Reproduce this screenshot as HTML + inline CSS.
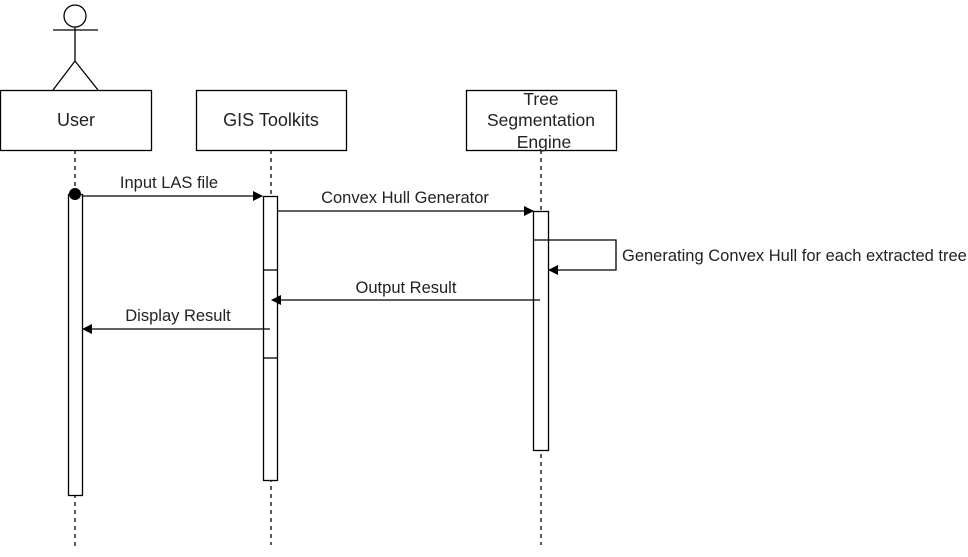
<!DOCTYPE html>
<html><head><style>body{margin:0;background:#fff}svg{display:block}</style></head><body>
<svg width="968" height="557" xmlns="http://www.w3.org/2000/svg" font-family="Liberation Sans, Arial, sans-serif" font-size="16.5">
<defs><marker id="a" markerWidth="10" markerHeight="10" refX="9" refY="5" orient="auto" markerUnits="userSpaceOnUse"><path d="M0,0 L10,5 L0,10 Z" fill="#000"/></marker></defs>
<g stroke="#000" fill="none" stroke-width="1.3">
<circle cx="75" cy="16" r="11"/>
<line x1="75" y1="27" x2="75" y2="61"/>
<line x1="53" y1="30" x2="98" y2="30"/>
<path d="M53,90 L75,61 L98,90"/>
<g stroke-dasharray="4,4"><line x1="75" y1="150" x2="75" y2="550"/><line x1="271" y1="150" x2="271" y2="545"/><line x1="541" y1="150" x2="541" y2="545"/></g>
<rect x="0.5" y="90.5" width="151" height="60" fill="#fff"/>
<rect x="196.5" y="90.5" width="150" height="60" fill="#fff"/>
<rect x="466.5" y="90.5" width="150" height="60" fill="#fff"/>
<rect x="68.5" y="194.5" width="14" height="301" fill="#fff"/>
<rect x="263.5" y="196.5" width="14" height="284" fill="#fff"/>
<line x1="263" y1="270" x2="277" y2="270"/><line x1="263" y1="358" x2="277" y2="358"/>
<rect x="533.5" y="211.5" width="15" height="239" fill="#fff"/>
<line x1="82" y1="196" x2="262" y2="196" marker-end="url(#a)"/>
<line x1="277" y1="211" x2="533" y2="211" marker-end="url(#a)"/>
<path d="M533,240 L616,240 L616,270 L549,270" marker-end="url(#a)"/>
<line x1="540" y1="300" x2="272" y2="300" marker-end="url(#a)"/>
<line x1="270" y1="329" x2="83" y2="329" marker-end="url(#a)"/>
</g>
<circle cx="75" cy="194" r="6" fill="#000"/>
<g fill="#222" text-anchor="middle">
<text x="76" y="126" font-size="18">User</text>
<text x="271" y="126" font-size="18">GIS Toolkits</text>
<text x="541" y="105" font-size="17.5">Tree</text>
<text x="541" y="126" font-size="17.5">Segmentation</text>
<text x="544" y="148" font-size="17.5">Engine</text>
<text x="169" y="188">Input LAS file</text>
<text x="405" y="203">Convex Hull Generator</text>
<text x="406" y="293">Output Result</text>
<text x="178" y="321">Display Result</text>
<text x="622" y="261" text-anchor="start">Generating Convex Hull for each extracted tree</text>
</g>
</svg>
</body></html>
